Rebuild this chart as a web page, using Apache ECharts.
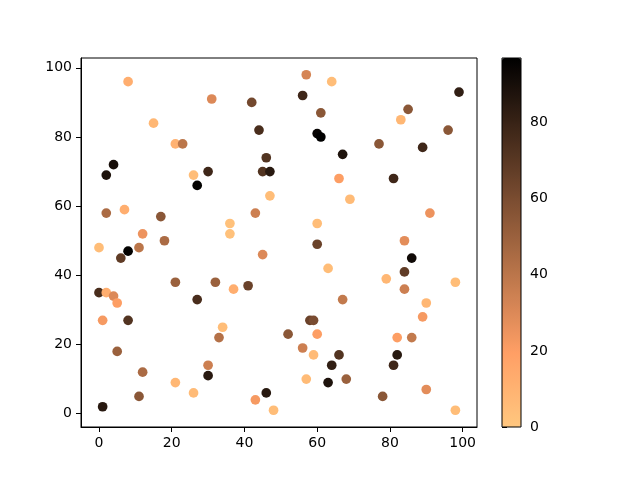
<!DOCTYPE html>
<html>
<head>
<meta charset="utf-8">
<script src="https://cdn.jsdelivr.net/npm/echarts@6/dist/echarts.min.js"></script>
<style>
  html, body { margin: 0; padding: 0; background: #fff; }
  #chart { width: 640px; height: 480px; }
</style>
</head>
<body>
<div id="chart"></div>
<script>
// ==================== DATA ====================
const xs = [8, 15, 2, 4, 21, 23, 26, 27, 30, 31, 42, 44, 46, 45, 47, 47, 36, 36, 43, 0,
  2, 7, 6, 8, 11, 12, 17, 18, 21, 0, 2, 4, 5, 1, 8, 5, 12, 1, 11, 21,
  26, 27, 30, 30, 32, 33, 34, 37, 41, 43, 45, 46, 48, 57, 64, 56, 61, 60, 61, 67,
  66, 69, 77, 83, 85, 89, 81, 96, 99, 60, 60, 63, 67, 58, 59, 52, 56, 60, 59, 57,
  66, 64, 63, 68, 78, 79, 84, 84, 86, 84, 82, 86, 82, 81, 89, 90, 91, 90, 98, 98];
const ys = [96, 84, 69, 72, 78, 78, 69, 66, 70, 91, 90, 82, 74, 70, 70, 63, 55, 52, 58, 48,
  58, 59, 45, 47, 48, 52, 57, 50, 38, 35, 35, 34, 32, 27, 27, 18, 12, 2, 5, 9,
  6, 33, 14, 11, 38, 22, 25, 36, 37, 4, 46, 6, 1, 98, 96, 92, 87, 81, 80, 75,
  68, 62, 78, 85, 88, 77, 68, 82, 93, 55, 49, 42, 33, 27, 27, 23, 19, 23, 17, 10,
  17, 14, 9, 10, 5, 39, 50, 41, 45, 36, 22, 22, 17, 14, 28, 32, 58, 7, 38, 1];
const vals = [12, 8, 88, 90, 10, 40, 5, 96, 78, 30, 62, 75, 72, 72, 85, 5, 3, 3, 35, 5,
  45, 12, 68, 96, 40, 25, 55, 45, 50, 75, 12, 30, 20, 22, 72, 50, 45, 85, 55, 8,
  6, 75, 35, 85, 50, 42, 5, 12, 65, 22, 30, 85, 5, 32, 5, 78, 55, 95, 97, 88,
  20, 6, 55, 8, 55, 78, 78, 55, 82, 5, 65, 5, 38, 65, 60, 55, 35, 20, 6, 6,
  72, 82, 88, 50, 55, 8, 28, 68, 92, 35, 20, 38, 85, 78, 22, 8, 25, 28, 5, 5];
const ticks = [0, 20, 40, 60, 80, 100];
const cbTicks = [0, 20, 40, 60, 80];
const vMin = 0, vMax = 97;

// copper_r colormap stops (low -> high)
const copperR = ['#ffc77f', '#ffb372', '#ff9f65', '#df8b59', '#bf784c', '#9f643f',
  '#805033', '#603c26', '#402819', '#20140d', '#000000'];

const pts = xs.map((x, i) => [x, ys[i], vals[i]]);
const font = 'DejaVu Sans';
const lbl = { color: '#000', fontSize: 14, fontFamily: font };

const chart = echarts.init(document.getElementById('chart'));
chart.setOption({
  backgroundColor: '#fff',
  animation: false,
  grid: [
    { left: 81, top: 58, right: 163, bottom: 53, show: true, borderColor: '#000', borderWidth: 1, backgroundColor: 'transparent' },
    { left: 502, top: 58, width: 19, height: 369, show: true, borderColor: '#000', borderWidth: 1, backgroundColor: 'transparent', z: 10 }
  ],
  xAxis: [
    {
      gridIndex: 0, type: 'value', min: -4.95, max: 103.95,
      splitLine: { show: false },
      axisLine: { show: true, onZero: false, lineStyle: { color: '#000' } },
      axisTick: { show: true, length: 5, inside: false, customValues: ticks, lineStyle: { color: '#000' } },
      axisLabel: Object.assign({ margin: 9, customValues: ticks, showMinLabel: true, showMaxLabel: true }, lbl)
    },
    { gridIndex: 1, type: 'value', min: 0, max: 1, show: false }
  ],
  yAxis: [
    {
      gridIndex: 0, type: 'value', min: -3.85, max: 102.85,
      splitLine: { show: false },
      axisLine: { show: true, onZero: false, lineStyle: { color: '#000' } },
      axisTick: { show: true, length: 5, inside: false, customValues: ticks, lineStyle: { color: '#000' } },
      axisLabel: Object.assign({ margin: 9, customValues: ticks }, lbl)
    },
    {
      gridIndex: 1, type: 'value', min: vMin, max: vMax, position: 'right',
      splitLine: { show: false },
      axisLine: { show: false },
      axisTick: { show: true, length: 5, customValues: cbTicks, lineStyle: { color: '#000' } },
      axisLabel: Object.assign({ margin: 9, customValues: cbTicks }, lbl)
    }
  ],
  visualMap: {
    type: 'continuous',
    min: vMin, max: vMax,
    dimension: 2,
    seriesIndex: 0,
    orient: 'vertical',
    left: 502, top: 58,
    itemWidth: 19, itemHeight: 369,
    padding: 0,
    calculable: false,
    hoverLink: false,
    text: null,
    inRange: { color: copperR }
  },
  series: [{
    type: 'scatter',
    xAxisIndex: 0, yAxisIndex: 0,
    data: pts,
    symbolSize: 9.7,
    itemStyle: { opacity: 1 }
  }]
});
</script>
</body>
</html>
